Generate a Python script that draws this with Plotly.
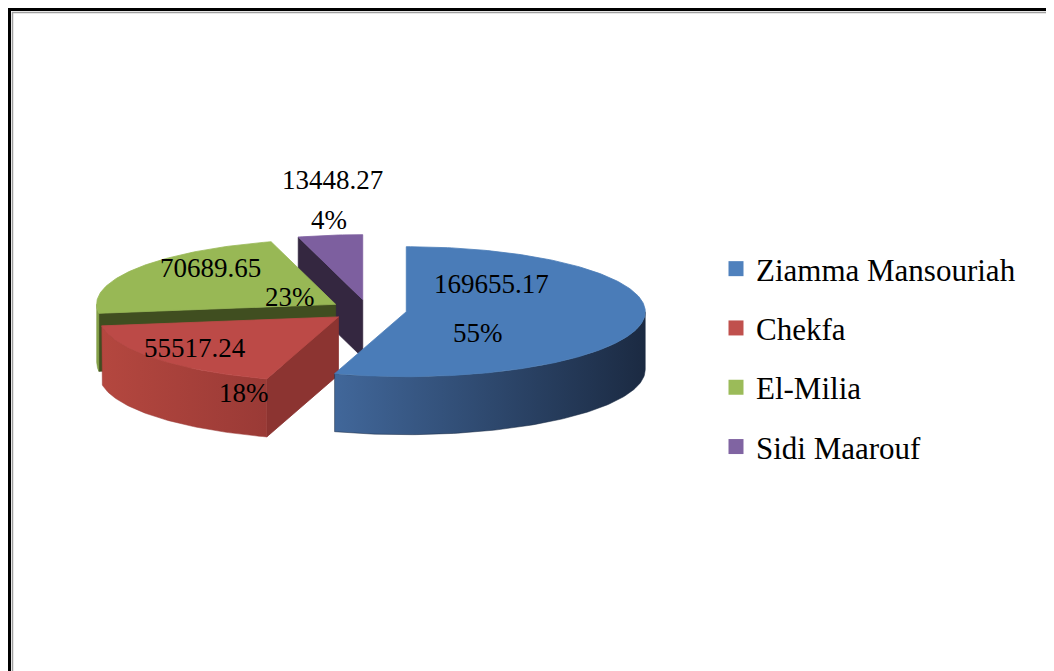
import math
import numpy as np
import plotly.graph_objects as go

# ---------------- data ----------------
CATEGORIES = ["Ziamma Mansouriah", "Chekfa", "El-Milia", "Sidi Maarouf"]
VALUES = [169655.17, 55517.24, 70689.65, 13448.27]

# ---------------- style ----------------
LEGEND_COLORS = ["#4F81BD", "#C0504D", "#9BBB59", "#8064A2"]
TOP_COLORS = ["#4A7CB8", "#BC4A47", "#98B855", "#7D5F9F"]
CUT_COLORS = ["#2C4466", "#8C3431", "#404E20", "#342740"]
SIDE_GRADIENTS = [
    ("#41679A", "#1B2A42"),
    ("#B4473F", "#9A3A36"),
    ("#8AA74C", "#7E9A44"),
    ("#6E5390", "#5C457A"),
]
LABEL_POS = [  # (value label, percent label) centres in screen pixels
    ((491, 284), (477.5, 333)),
    ((195, 348), (244, 393)),
    ((210, 268), (290, 297)),
    ((332.7, 179.5), (329, 220)),
]
FONT = "Liberation Serif"

W, HF = 1054, 671          # window size
PAGE = 8                   # default page margin of the html body
CX, CY = 368.0, 310.1      # pie centre (screen px)
RX, RY = 239.0, 65.0       # ellipse radii (px)
DEPTH = 58.0               # pie thickness (px)
EXPLODE = 0.162            # explosion as fraction of radius

total = sum(VALUES)
fracs = [v / total for v in VALUES]
starts = np.concatenate([[0.0], np.cumsum(fracs)[:-1]]) * 360.0
ends = np.cumsum(fracs) * 360.0


def proj(theta, r, off, z=0.0):
    t = math.radians(theta)
    u = r * math.sin(t) + off[0]
    v = r * math.cos(t) + off[1]
    return CX + RX * u, CY - RY * v + z


fig = go.Figure()

# draw back slices first: purple, green, red, blue
order = [3, 2, 1, 0]
for i in order:
    t1, t2 = starts[i], ends[i]
    mid = 0.5 * (t1 + t2)
    off = (EXPLODE * math.sin(math.radians(mid)), EXPLODE * math.cos(math.radians(mid)))
    apex = proj(0, 0, off)
    apex_b = proj(0, 0, off, DEPTH)

    # cut faces
    for ang, normal in ((t1, t1 - 90), (t2, t2 + 90)):
        if math.cos(math.radians(normal)) < -1e-6:
            rt = proj(ang, 1, off)
            rb = proj(ang, 1, off, DEPTH)
            xs = [apex[0], rt[0], rb[0], apex_b[0], apex[0]]
            ys = [apex[1], rt[1], rb[1], apex_b[1], apex[1]]
            fig.add_trace(go.Scatter(x=xs, y=ys, mode="lines", fill="toself",
                                     fillcolor=CUT_COLORS[i],
                                     line=dict(color=CUT_COLORS[i], width=0.8),
                                     hoverinfo="skip", showlegend=False))

    # outer curved side (front half only)
    a, b = max(t1, 90.0), min(t2, 270.0)
    if b > a:
        n = max(int(b - a) + 2, 3)
        th = np.linspace(a, b, n)
        top = [proj(t, 1, off) for t in th]
        bot = [proj(t, 1, off, DEPTH) for t in th[::-1]]
        pts = top + bot + [top[0]]
        c_left, c_right = SIDE_GRADIENTS[i]
        fig.add_trace(go.Scatter(x=[p[0] for p in pts], y=[p[1] for p in pts],
                                 mode="lines", fill="toself",
                                 fillcolor=c_left,
                                 fillgradient=dict(type="horizontal",
                                                   colorscale=[[0, c_left], [1, c_right]]),
                                 line=dict(color=c_right, width=0.5),
                                 hoverinfo="skip", showlegend=False))

    # top face
    n = max(int(t2 - t1) + 2, 3)
    th = np.linspace(t1, t2, n)
    pts = [apex] + [proj(t, 1, off) for t in th] + [apex]
    fig.add_trace(go.Scatter(x=[p[0] for p in pts], y=[p[1] for p in pts],
                             mode="lines", fill="toself", fillcolor=TOP_COLORS[i],
                             line=dict(color=TOP_COLORS[i], width=0.8),
                             hoverinfo="skip", showlegend=False))

# legend entries
for name, col in zip(CATEGORIES, LEGEND_COLORS):
    fig.add_trace(go.Scatter(x=[None], y=[None], mode="markers", name=name,
                             legendgroup=name,
                             marker=dict(symbol="square", size=15, color=col)))

# data labels
for i, v in enumerate(VALUES):
    (vx, vy), (px, py) = LABEL_POS[i]
    fig.add_annotation(x=vx, y=vy, text=f"{v:.2f}", showarrow=False,
                       xanchor="center", yanchor="middle",
                       font=dict(family=FONT, size=27, color="#000000"))
    fig.add_annotation(x=px, y=py, text=f"{round(100 * v / total)}%", showarrow=False,
                       xanchor="center", yanchor="middle",
                       font=dict(family=FONT, size=27, color="#000000"))

FW, FH = W - PAGE, HF - PAGE


def pxx(x):
    return (x - PAGE) / FW


def pxy(y):
    return 1 - (y - PAGE) / FH


# frame lines (paper coordinates so they are not clipped)
fig.add_shape(type="rect", xref="paper", yref="paper",
              x0=pxx(9.5), y0=pxy(9.5), x1=pxx(1090), y1=pxy(720),
              line=dict(color="#000000", width=3), layer="above")
fig.add_shape(type="rect", xref="paper", yref="paper",
              x0=pxx(12.5), y0=pxy(12.5), x1=pxx(1090), y1=pxy(720),
              line=dict(color="#A0A0A0", width=1.5), layer="above")

fig.update_layout(
    width=FW, height=FH,
    margin=dict(l=0, r=0, t=0, b=0, pad=0),
    paper_bgcolor="white", plot_bgcolor="white",
    xaxis=dict(range=[PAGE, W], visible=False, fixedrange=True),
    yaxis=dict(range=[HF, PAGE], visible=False, fixedrange=True),
    showlegend=True,
    legend=dict(x=pxx(716), y=pxy(242),
                xanchor="left", yanchor="top",
                font=dict(family=FONT, size=31, color="#000000"),
                bgcolor="rgba(0,0,0,0)", tracegroupgap=16,
                itemwidth=30),
    hovermode=False,
)

fig.write_html("out.html")
